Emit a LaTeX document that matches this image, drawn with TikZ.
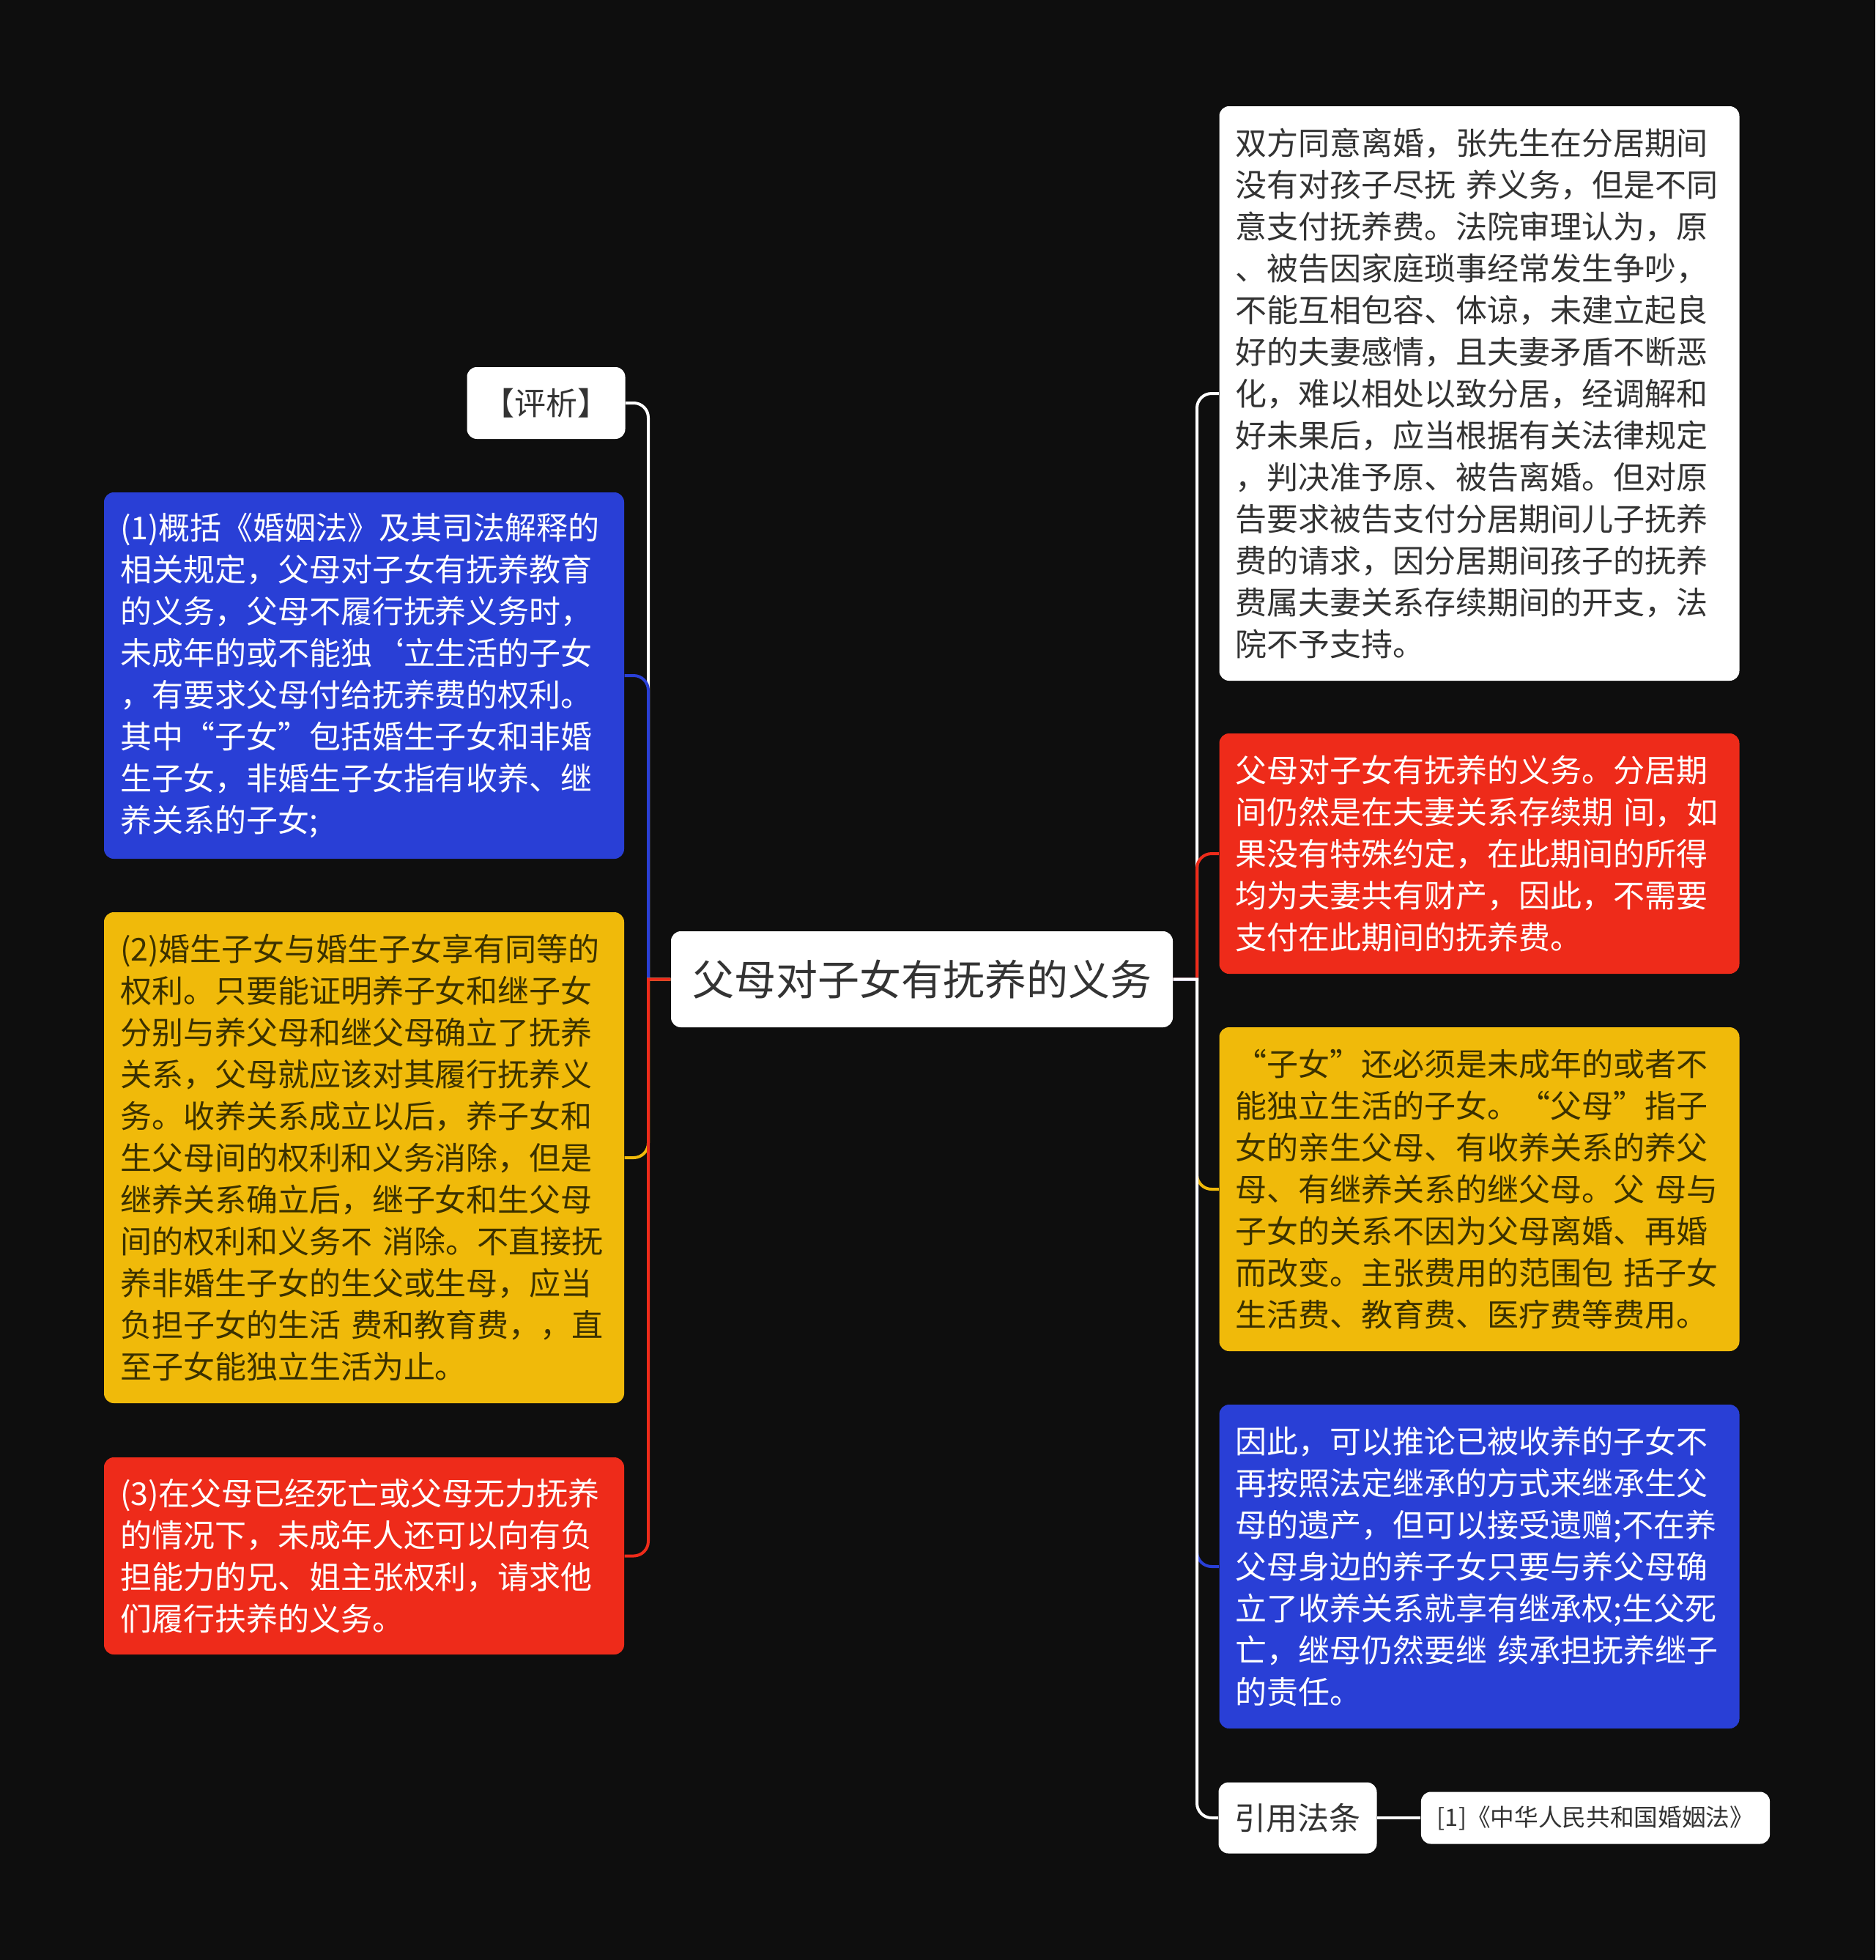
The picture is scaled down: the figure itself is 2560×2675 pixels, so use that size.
\documentclass[tikz,border=0pt]{standalone}
\usepackage{fontspec}
\newfontfamily\cjk{Noto Sans CJK SC}
\definecolor{bg}{HTML}{0E0E0E}
\definecolor{cblue}{HTML}{293FD6}
\definecolor{cred}{HTML}{EE2B1A}
\definecolor{cyellow}{HTML}{F0BA0A}
\definecolor{ink}{HTML}{333333}
\definecolor{brown}{HTML}{3B3100}

\begin{document}
\begin{tikzpicture}[x=0.3pt,y=-0.3pt,
  every node/.style={rounded corners=4pt,inner xsep=6.6pt,inner ysep=0pt,
    font=\cjk\fontsize{12.9}{17.1}\selectfont},
  leaf/.style={text width=199.8pt,align=left},
  ht/.style={minimum height=0.3pt*#1},
  link/.style={line width=1.2pt}]

\useasboundingbox (0,0) rectangle (2560,2675);
\fill[bg] (0,0) rectangle (2560,2675);

\node[fill=white,text=ink,minimum width=205.5pt,ht=131,
  font=\cjk\fontsize{17.1}{20}\selectfont] (root) at (1258.5,1336.5) {父母对子女有抚养的义务};

% left side
\node[fill=white,text=ink,minimum width=63.3pt,ht=98] (l0) at (745.5,550) {【评析】};
\node[leaf,fill=cblue,text=white,ht=500] (l1) at (497,922) {(1)概括《婚姻法》及其司法解释的\\相关规定，父母对子女有抚养教育\\的义务，父母不履行抚养义务时，\\未成年的或不能独‘立生活的子女\\，有要求父母付给抚养费的权利。\\其中“子女”包括婚生子女和非婚\\生子女，非婚生子女指有收养、继\\养关系的子女;};
\node[leaf,fill=cyellow,text=brown,ht=670] (l2) at (497,1580) {(2)婚生子女与婚生子女享有同等的\\权利。只要能证明养子女和继子女\\分别与养父母和继父母确立了抚养\\关系，父母就应该对其履行抚养义\\务。收养关系成立以后，养子女和\\生父母间的权利和义务消除，但是\\继养关系确立后，继子女和生父母\\间的权利和义务不~消除。不直接抚\\养非婚生子女的生父或生母，应当\\负担子女的生活~费和教育费，，直\\至子女能独立生活为止。};
\node[leaf,fill=cred,text=white,ht=269] (l3) at (497,2123.5) {(3)在父母已经死亡或父母无力抚养\\的情况下，未成年人还可以向有负\\担能力的兄、姐主张权利，请求他\\们履行扶养的义务。};

% right side
\node[leaf,fill=white,text=ink,ht=784] (r1) at (2019.5,537) {双方同意离婚，张先生在分居期间\\没有对孩子尽抚~养义务，但是不同\\意支付抚养费。法院审理认为，原\\、被告因家庭琐事经常发生争吵，\\不能互相包容、体谅，未建立起良\\好的夫妻感情，且夫妻矛盾不断恶\\化，难以相处以致分居，经调解和\\好未果后，应当根据有关法律规定\\，判决准予原、被告离婚。但对原\\告要求被告支付分居期间儿子抚养\\费的请求，因分居期间孩子的抚养\\费属夫妻关系存续期间的开支，法\\院不予支持。};
\node[leaf,fill=cred,text=white,ht=328] (r2) at (2019.5,1165) {父母对子女有抚养的义务。分居期\\间仍然是在夫妻关系存续期~间，如\\果没有特殊约定，在此期间的所得\\均为夫妻共有财产，因此，不需要\\支付在此期间的抚养费。};
\node[leaf,fill=cyellow,text=brown,ht=442] (r3) at (2019.5,1623) {“子女”还必须是未成年的或者不\\能独立生活的子女。“父母”指子\\女的亲生父母、有收养关系的养父\\母、有继养关系的继父母。父~母与\\子女的关系不因为父母离婚、再婚\\而改变。主张费用的范围包~括子女\\生活费、教育费、医疗费等费用。};
\node[leaf,fill=cblue,text=white,ht=442] (r4) at (2019.5,2138) {因此，可以推论已被收养的子女不\\再按照法定继承的方式来继承生父\\母的遗产，但可以接受遗赠;不在养\\父母身边的养子女只要与养父母确\\立了收养关系就享有继承权;生父死\\亡，继母仍然要继~续承担抚养继子\\的责任。};
\node[fill=white,text=ink,minimum width=63.9pt,ht=97] (r5) at (1771.5,2481) {引用法条};
\node[fill=white,text=ink,minimum width=142.2pt,ht=71,
  font=\cjk\fontsize{9.8}{12}\selectfont] (r6) at (2178,2481) {[1]《中华人民共和国婚姻法》};

% connectors
\coordinate (lj) at (885,1336.5);
\coordinate (rj) at (1634,1336.5);
\foreach \n/\c in {l0/white,l1/cblue,l2/cyellow,l3/cred}
  \draw[link,\c] (root.west) -- (lj) [rounded corners=6pt] |- (\n.east);
\foreach \n/\c in {r1/white,r2/cred,r3/cyellow,r4/cblue,r5/white}
  \draw[link,\c] (root.east) -- (rj) [rounded corners=6pt] |- (\n.west);
\draw[link,white] (r5) -- (r6);
\end{tikzpicture}
\end{document}
